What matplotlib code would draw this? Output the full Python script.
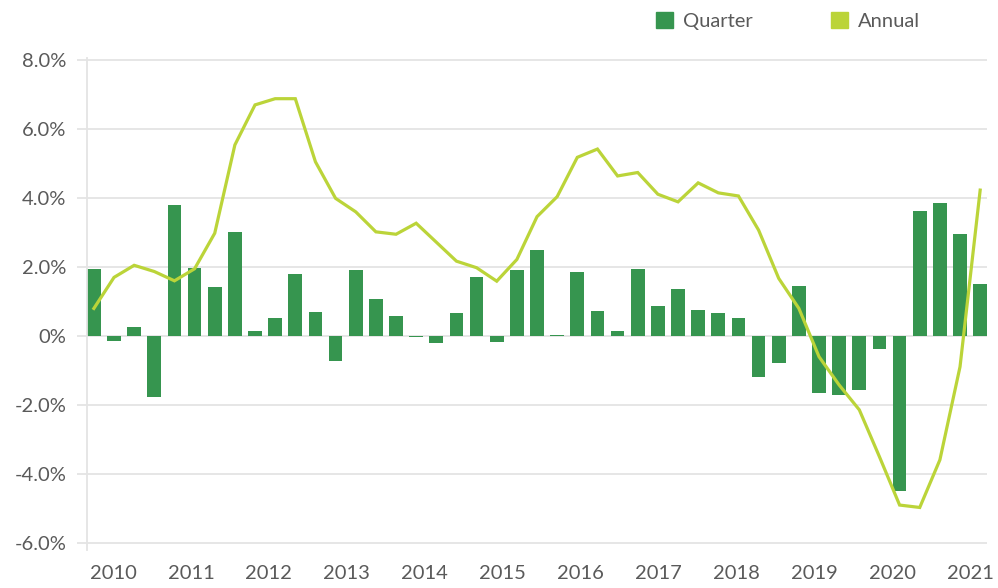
import matplotlib
matplotlib.use("Agg")
import matplotlib.pyplot as plt
import numpy as np
from matplotlib.patches import Patch

# Quarterly change (%) 2010 Q1 .. 2021 Q1
quarter = [1.93, -0.14, 0.25, -1.76, 3.81, 1.98, 1.41, 3.01, 0.14, 0.51,
           1.80, 0.69, -0.71, 1.91, 1.08, 0.58, -0.03, -0.21, 0.66, 1.70,
           -0.17, 1.91, 2.49, 0.04, 1.87, 0.72, 0.14, 1.94, 0.87, 1.36,
           0.75, 0.66, 0.51, -1.18, -0.77, 1.45, -1.64, -1.72, -1.57, -0.39,
           -4.48, 3.62, 3.85, 2.95, 1.51]
# Annual change (%)
annual = [0.80, 1.70, 2.05, 1.87, 1.60, 1.95, 2.98, 5.54, 6.70, 6.88,
          6.88, 5.05, 3.99, 3.60, 3.02, 2.95, 3.27, 2.72, 2.17, 1.98,
          1.59, 2.22, 3.46, 4.04, 5.18, 5.42, 4.64, 4.74, 4.11, 3.89,
          4.44, 4.15, 4.06, 3.07, 1.67, 0.80, -0.60, -1.42, -2.14, -3.50,
          -4.90, -4.97, -3.59, -0.89, 4.23]
years = ["2010", "2011", "2012", "2013", "2014", "2015", "2016",
         "2017", "2018", "2019", "2020", "2021"]
yticks = [-6, -4, -2, 0, 2, 4, 6, 8]
ytick_labels = ["-6.0%", "-4.0%", "-2.0%", "0%", "2.0%", "4.0%", "6.0%", "8.0%"]

BAR = "#36954f"
LINE = "#bbd439"
GRID = "#e4e4e4"
TXT = "#5a5a5a"
FS = 14.5

plt.rcParams['font.family'] = ['Lato', 'DejaVu Sans']

fig = plt.figure(figsize=(9.98, 5.88), dpi=100)
ax = fig.add_axes([0.0872, 0.0648, 0.9018, 0.836])

x = np.arange(len(quarter))
w = 0.68
ax.bar(x, quarter, width=w, color=BAR, zorder=2)
ax.plot(x, annual, color=LINE, lw=2.3, zorder=3, solid_joinstyle='miter')

ax.set_xlim(-w / 2, len(quarter) - 1 + w / 2)
ax.set_ylim(-6.2, 8.05)

ax.set_yticks(yticks)
ax.set_yticklabels(ytick_labels)
ax.yaxis.grid(True, color=GRID, lw=1.3, zorder=0)
ax.set_axisbelow(True)
ax.tick_params(axis='y', length=7, width=1.3, color=GRID, labelcolor=TXT,
               labelsize=FS, pad=8)

xt = np.linspace(0.95, 43.5, len(years))
ax.set_xticks(xt)
ax.set_xticklabels(years)
ax.tick_params(axis='x', length=0, labelcolor=TXT, labelsize=FS, pad=11)

for s in ['top', 'right', 'bottom']:
    ax.spines[s].set_visible(False)
ax.spines['left'].set_color(GRID)
ax.spines['left'].set_linewidth(1.3)

handles = [Patch(color=BAR, label="Quarter"), Patch(color=LINE, label="Annual")]
fig.legend(handles=handles, ncol=2, frameon=False, loc='upper left',
           bbox_to_anchor=(646 / 998, 1 - 2 / 588), borderpad=0,
           handlelength=0.85, handleheight=0.85, handletextpad=0.5,
           columnspacing=3.85, fontsize=FS, labelcolor=TXT)

fig.savefig("out.png", dpi=100)
